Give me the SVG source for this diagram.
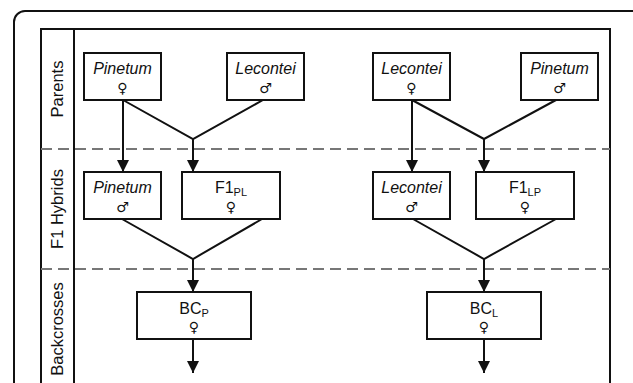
<svg xmlns="http://www.w3.org/2000/svg" width="633" height="383" viewBox="0 0 633 383">
<style>
.frame{fill:none;stroke:#111;stroke-width:2}
.box{fill:#fff;stroke:#111;stroke-width:2}
.dash{stroke:#777;stroke-width:2;stroke-dasharray:11 6;fill:none}
.ln{stroke:#111;stroke-width:2;fill:none}
.lab{font-family:"Liberation Sans",Arial,sans-serif;font-size:16.5px;fill:#111;text-anchor:middle}
.sp{font-family:"Liberation Sans",Arial,sans-serif;font-size:16px;font-style:italic;fill:#111;text-anchor:middle}
.nm{font-family:"Liberation Sans",Arial,sans-serif;font-size:16px;fill:#111;text-anchor:middle}
.sub{font-size:11px}
.sym{font-family:"DejaVu Sans",sans-serif;font-size:14px;fill:#111;text-anchor:middle}
</style>
<defs>
<marker id="ah" markerWidth="12" markerHeight="12" refX="12" refY="6" orient="auto" markerUnits="userSpaceOnUse">
<path d="M0,0 L12,6 L0,12 z" fill="#111"/>
</marker>
</defs>
<rect class="frame" x="14" y="11" width="640" height="400" rx="11"/>
<rect class="frame" x="41" y="29" width="569" height="380"/>
<line class="ln" x1="74" y1="29" x2="74" y2="383"/>
<line class="dash" x1="41" y1="149" x2="610" y2="149"/>
<line class="dash" x1="41" y1="269" x2="610" y2="269"/>
<text class="lab" transform="translate(63,89) rotate(-90)">Parents</text>
<text class="lab" transform="translate(63,209) rotate(-90)">F1 Hybrids</text>
<text class="lab" transform="translate(63,329) rotate(-90)">Backcrosses</text>
<g id="connectors">
<line class="ln" x1="123" y1="100" x2="123" y2="172" marker-end="url(#ah)"/>
<polyline class="ln" points="123,100 193,139 263,100"/>
<line class="ln" x1="193" y1="139" x2="193" y2="172" marker-end="url(#ah)"/>
<line class="ln" x1="412" y1="100" x2="412" y2="172" marker-end="url(#ah)"/>
<polyline class="ln" points="412,100 484,139 556,100"/>
<line class="ln" x1="484" y1="139" x2="484" y2="172" marker-end="url(#ah)"/>
<polyline class="ln" points="122,219 193,259 262,219"/>
<line class="ln" x1="193" y1="259" x2="193" y2="292" marker-end="url(#ah)"/>
<polyline class="ln" points="413,219 484,259 556,219"/>
<line class="ln" x1="484" y1="259" x2="484" y2="292" marker-end="url(#ah)"/>
<line class="ln" x1="193" y1="339" x2="193" y2="373" marker-end="url(#ah)"/>
<line class="ln" x1="484" y1="339" x2="484" y2="373" marker-end="url(#ah)"/>
</g>
<g id="p-pinetum-f">
<rect class="box" x="84" y="53" width="77" height="47"/>
<text class="sp" x="122.5" y="74">Pinetum</text>
<text class="sym" x="122.5" y="93">♀</text>
</g>
<g id="p-lecontei-m">
<rect class="box" x="227" y="53" width="77" height="47"/>
<text class="sp" x="265.5" y="74">Lecontei</text>
<text class="sym" x="265.5" y="93">♂</text>
</g>
<g id="p-lecontei-f">
<rect class="box" x="373" y="53" width="77" height="47"/>
<text class="sp" x="411.5" y="74">Lecontei</text>
<text class="sym" x="411.5" y="93">♀</text>
</g>
<g id="p-pinetum-m">
<rect class="box" x="521" y="53" width="77" height="47"/>
<text class="sp" x="559.5" y="74">Pinetum</text>
<text class="sym" x="559.5" y="93">♂</text>
</g>
<g id="f1-pinetum-m">
<rect class="box" x="84" y="172" width="77" height="47"/>
<text class="sp" x="122.5" y="193">Pinetum</text>
<text class="sym" x="122.5" y="212">♂</text>
</g>
<g id="f1-pl">
<rect class="box" x="182" y="172" width="98" height="47"/>
<text class="nm" x="231" y="193">F1<tspan class="sub" dy="3">PL</tspan></text>
<text class="sym" x="231" y="212">♀</text>
</g>
<g id="f1-lecontei-m">
<rect class="box" x="373" y="172" width="77" height="47"/>
<text class="sp" x="411.5" y="193">Lecontei</text>
<text class="sym" x="411.5" y="212">♂</text>
</g>
<g id="f1-lp">
<rect class="box" x="476" y="172" width="98" height="47"/>
<text class="nm" x="525" y="193">F1<tspan class="sub" dy="3">LP</tspan></text>
<text class="sym" x="525" y="212">♀</text>
</g>
<g id="bc-p">
<rect class="box" x="137" y="292" width="114" height="47"/>
<text class="nm" x="194" y="314">BC<tspan class="sub" dy="3">P</tspan></text>
<text class="sym" x="194" y="332">♀</text>
</g>
<g id="bc-l">
<rect class="box" x="427" y="292" width="114" height="47"/>
<text class="nm" x="484" y="314">BC<tspan class="sub" dy="3">L</tspan></text>
<text class="sym" x="484" y="332">♀</text>
</g>
</svg>
